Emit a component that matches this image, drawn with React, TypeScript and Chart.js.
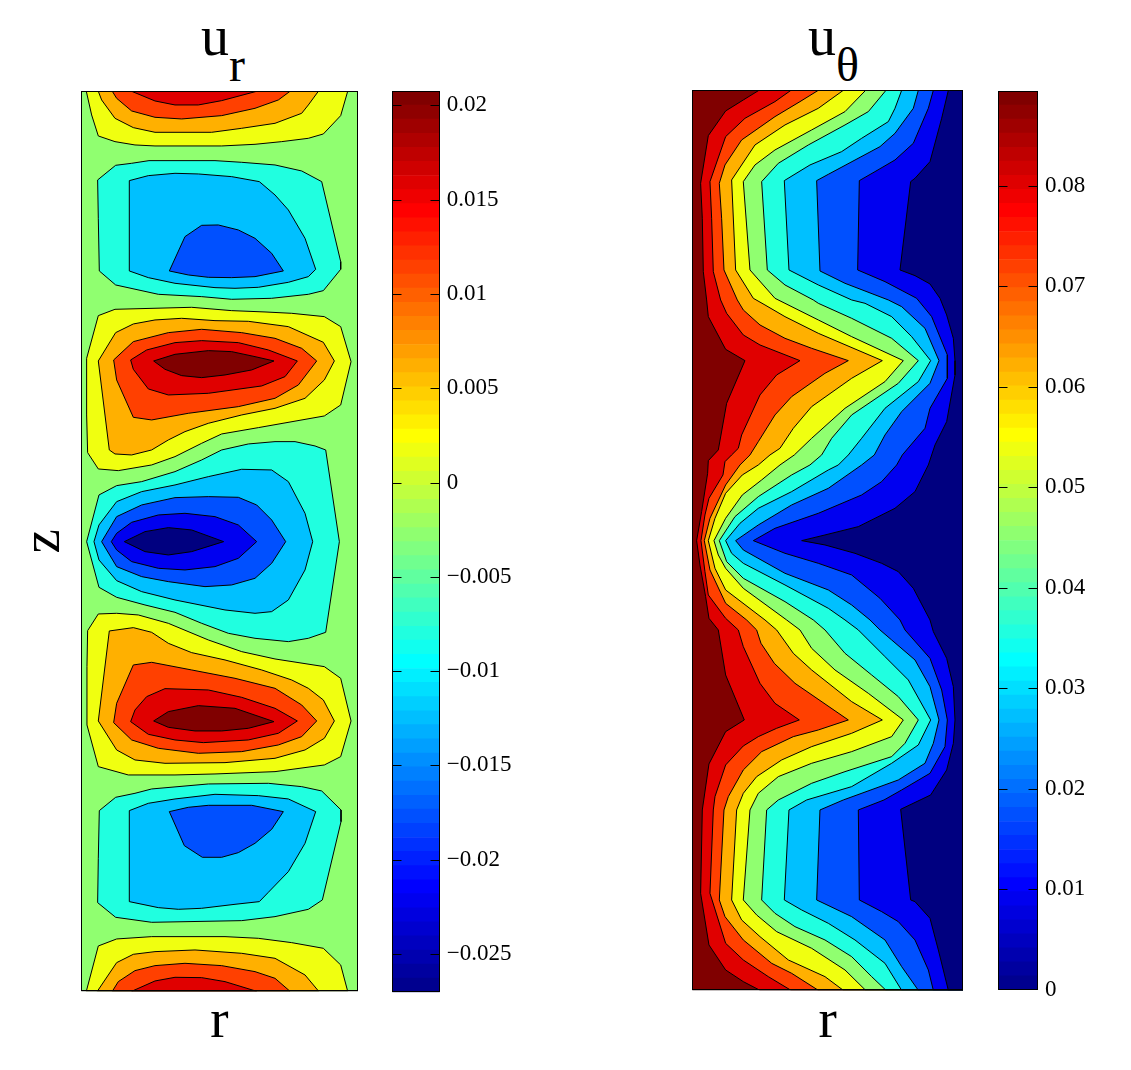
import React, { useEffect, useRef } from "react";
import { Chart, registerables } from "chart.js";

Chart.register(...registerables);

type P = [number, number][];

// ---- jet band colours used by the filled contours
const DARK_RED = "#800000";
const RED = "#E00000";
const ORANGE_RED = "#FF4000";
const ORANGE = "#FFB000";
const YELLOW = "#F0FF10";
const GREEN = "#90FF70";
const CYAN = "#20FFE0";
const LIGHT_BLUE = "#00C0FF";
const BLUE = "#0050FF";
const DARK_BLUE = "#0000F0";
const NAVY = "#000080";

// ---- u_r panel: r in 0..829, z in 0..2700 (measured downward from the top of the domain)
const urDomain: P = [[0, 0], [829, 0], [829, 2700], [0, 2700]];
const urYellowTop: P = [[15,0],[31,71],[51,134],[101,151],[161,161],[221,164],[421,164],[521,159],[601,151],[681,141],[726,128],[778,73],[799,0]];
const urOrangeTop: P = [[51,0],[61,26],[101,81],[156,109],[221,123],[391,123],[481,111],[581,96],[661,66],[681,41],[711,0]];
const urOrangeRedTop: P = [[93,0],[106,21],[151,59],[221,78],[301,83],[421,73],[521,51],[591,26],[626,0]];
const urRedTop: P = [[151,0],[221,29],[281,41],[351,41],[421,28],[526,0]];

const urCyan1: P = [[49,266],[103,222],[151,216],[203,208],[401,208],[481,213],[581,221],[661,239],[721,271],[778,511],[778,534],[726,598],[681,609],[571,621],[451,624],[361,616],[231,609],[103,581],[54,539],[51,381]];
const urLight1: P = [[144,268],[201,253],[281,246],[351,248],[451,256],[534,271],[581,311],[621,356],[671,441],[703,534],[681,556],[621,573],[531,588],[461,591],[401,589],[281,576],[201,559],[144,539]];
const urBlue1: P = [[264,539],[311,436],[361,402],[411,401],[471,416],[521,441],[571,486],[606,539],[521,556],[451,559],[381,558],[321,551]];

const urYellow2: P = [[51,673],[101,654],[331,648],[451,658],[551,662],[631,666],[729,676],[778,706],[809,811],[778,941],[729,974],[531,1009],[421,1028],[361,1056],[281,1096],[211,1121],[111,1138],[51,1133],[19,1084],[16,971],[16,801]];
const urOrange2: P = [[103,724],[156,698],[221,686],[301,681],[401,688],[501,690],[621,706],[726,753],[759,809],[729,866],[671,921],[581,951],[481,971],[381,996],[311,1021],[261,1046],[211,1076],[151,1091],[101,1088],[84,1076],[51,809]];
const urOrangeRed2: P = [[97,806],[156,751],[261,724],[361,714],[481,724],[581,741],[661,771],[706,809],[651,881],[581,921],[471,946],[321,966],[211,986],[156,978],[106,866]];
const urRed2: P = [[148,806],[196,776],[281,754],[361,748],[471,754],[561,776],[648,809],[611,856],[541,884],[381,906],[261,911],[201,893],[156,834]];
const urDark2: P = [[217,809],[281,789],[381,778],[451,781],[521,796],[578,809],[511,836],[431,851],[361,859],[301,853],[251,834]];

const urCyan3: P = [[53,1211],[106,1183],[181,1171],[281,1141],[361,1106],[421,1076],[501,1058],[581,1051],[641,1051],[701,1064],[733,1076],[774,1351],[733,1623],[681,1641],[621,1651],[521,1641],[441,1626],[361,1596],[281,1563],[191,1541],[106,1518],[53,1488],[16,1351]];
const urLight3: P = [[38,1351],[53,1301],[106,1231],[181,1201],[281,1181],[381,1156],[481,1134],[571,1136],[621,1171],[671,1266],[694,1351],[671,1436],[621,1526],[571,1561],[521,1566],[431,1556],[281,1526],[181,1501],[106,1468],[53,1406]];
const urBlue3: P = [[61,1351],[106,1276],[181,1241],[281,1219],[381,1216],[471,1218],[526,1241],[571,1286],[613,1351],[571,1416],[521,1461],[451,1481],[371,1486],[261,1471],[181,1456],[106,1426]];
const urDarkBlue3: P = [[90,1351],[106,1326],[151,1293],[231,1271],[311,1266],[401,1276],[471,1301],[526,1351],[471,1401],[401,1426],[311,1436],[231,1431],[151,1411],[106,1376]];
const urNavy3: P = [[129,1351],[191,1321],[261,1309],[331,1316],[427,1351],[331,1381],[261,1391],[191,1381]];

const urYellow4: P = [[19,1618],[51,1568],[106,1566],[171,1571],[261,1596],[381,1646],[481,1681],[581,1703],[729,1726],[778,1761],[809,1889],[778,1996],[729,2021],[581,2041],[401,2048],[281,2051],[141,2051],[51,2026],[17,1901],[17,1726]];
const urOrange4: P = [[84,1619],[156,1609],[211,1623],[261,1656],[331,1684],[431,1706],[541,1736],[631,1766],[681,1791],[726,1826],[759,1889],[729,1941],[671,1976],[581,2001],[431,2014],[251,2016],[161,2006],[106,1976],[51,1889]];
const urOrangeRed4: P = [[156,1721],[211,1713],[331,1736],[461,1761],[581,1791],[661,1841],[706,1889],[661,1936],[591,1961],[481,1981],[351,1986],[231,1971],[151,1946],[97,1894],[106,1836]];
const urRed4: P = [[148,1891],[161,1856],[196,1816],[251,1792],[381,1796],[481,1818],[581,1851],[648,1889],[591,1926],[501,1946],[366,1954],[281,1946],[201,1929]];
const urDark4: P = [[217,1889],[261,1861],[351,1843],[461,1851],[578,1891],[501,1911],[421,1919],[341,1919],[261,1908]];

const urCyan5: P = [[54,2158],[103,2118],[161,2106],[211,2093],[381,2078],[561,2076],[661,2086],[721,2099],[779,2156],[779,2191],[723,2426],[681,2454],[581,2476],[481,2488],[211,2493],[103,2478],[49,2434],[51,2301]];
const urLight5: P = [[144,2158],[201,2136],[281,2123],[401,2109],[531,2113],[621,2123],[703,2161],[671,2256],[621,2341],[561,2403],[534,2431],[461,2439],[361,2451],[291,2454],[231,2449],[144,2431]];
const urBlue5: P = [[264,2161],[321,2148],[381,2142],[511,2142],[606,2161],[571,2214],[521,2256],[471,2284],[421,2298],[363,2298],[309,2263]];

const urYellowBottom: P = [[51,2564],[106,2543],[211,2536],[431,2536],[531,2541],[631,2554],[726,2571],[778,2621],[799,2700],[15,2700]];
const urOrangeBottom: P = [[48,2700],[106,2614],[156,2589],[221,2581],[341,2576],[481,2586],[581,2601],[671,2651],[712,2700]];
const urOrangeRedBottom: P = [[93,2700],[111,2671],[161,2638],[221,2623],[311,2616],[421,2623],[521,2641],[581,2661],[626,2700]];
const urRedBottom: P = [[151,2700],[221,2669],[281,2658],[361,2659],[431,2671],[526,2700]];

const urContours: [P, string][] = [
  [urDomain, GREEN],
  [urYellowTop, YELLOW], [urOrangeTop, ORANGE], [urOrangeRedTop, ORANGE_RED], [urRedTop, RED],
  [urCyan1, CYAN], [urLight1, LIGHT_BLUE], [urBlue1, BLUE],
  [urYellow2, YELLOW], [urOrange2, ORANGE], [urOrangeRed2, ORANGE_RED], [urRed2, RED], [urDark2, DARK_RED],
  [urCyan3, CYAN], [urLight3, LIGHT_BLUE], [urBlue3, BLUE], [urDarkBlue3, DARK_BLUE], [urNavy3, NAVY],
  [urYellow4, YELLOW], [urOrange4, ORANGE], [urOrangeRed4, ORANGE_RED], [urRed4, RED], [urDark4, DARK_RED],
  [urCyan5, CYAN], [urLight5, LIGHT_BLUE], [urBlue5, BLUE],
  [urYellowBottom, YELLOW], [urOrangeBottom, ORANGE], [urOrangeRedBottom, ORANGE_RED], [urRedBottom, RED],
];

// ---- u_theta panel: r in 0..812, z in 0..2700; each line runs from the top edge to the bottom edge
const utDomain: P = [[0, 0], [812, 0], [812, 2700], [0, 2700]];
const utC1: P = [[200,0],[153,29],[100,62],[48,136],[25,279],[30,384],[33,544],[43,629],[48,679],[100,777],[158,811],[103,939],[78,1079],[48,1111],[46,1149],[28,1264],[13,1351],[23,1424],[40,1519],[50,1584],[78,1619],[100,1754],[156,1889],[100,1924],[50,2021],[30,2159],[25,2409],[50,2564],[100,2639],[153,2674],[203,2700]];
const utC2: P = [[296,0],[248,34],[158,84],[100,139],[53,274],[58,384],[63,544],[85,629],[103,669],[153,734],[203,764],[323,811],[253,854],[203,914],[148,1034],[138,1074],[118,1094],[98,1114],[92,1154],[50,1224],[38,1274],[26,1351],[38,1444],[48,1514],[100,1584],[138,1619],[153,1669],[203,1779],[248,1839],[321,1889],[253,1914],[198,1939],[153,1967],[100,2024],[68,2119],[63,2159],[53,2409],[100,2559],[153,2609],[228,2659],[296,2700]];
const utC3: P = [[378,0],[323,34],[248,79],[148,149],[98,224],[81,279],[88,384],[95,539],[135,629],[153,659],[203,704],[278,744],[358,774],[468,811],[398,849],[298,919],[248,974],[198,1054],[173,1094],[143,1124],[100,1184],[53,1284],[36,1351],[53,1439],[100,1539],[163,1589],[193,1619],[206,1659],[246,1719],[308,1779],[468,1889],[378,1919],[303,1939],[208,1984],[153,2039],[108,2119],[95,2159],[81,2429],[98,2479],[153,2549],[238,2619],[298,2649],[378,2700]];
const utC4: P = [[453,0],[378,54],[278,104],[188,164],[118,269],[130,539],[183,624],[218,644],[278,679],[378,729],[570,811],[478,864],[358,949],[303,1014],[263,1074],[233,1094],[198,1124],[150,1154],[100,1209],[68,1284],[48,1351],[68,1434],[100,1499],[218,1589],[253,1619],[303,1689],[358,1739],[478,1834],[570,1889],[478,1929],[358,1969],[268,2009],[193,2059],[153,2109],[133,2159],[118,2429],[148,2489],[203,2539],[288,2609],[398,2659],[453,2700]];
const utC5: P = [[520,0],[458,64],[358,119],[248,179],[188,224],[153,274],[173,539],[248,624],[278,639],[378,689],[478,739],[633,811],[578,874],[458,954],[358,1044],[306,1094],[263,1124],[208,1169],[150,1214],[100,1284],[65,1351],[78,1394],[100,1434],[153,1494],[283,1589],[323,1619],[358,1674],[428,1739],[528,1809],[633,1889],[598,1939],[478,1984],[358,2019],[258,2059],[198,2109],[173,2159],[153,2429],[193,2474],[253,2524],[358,2574],[458,2639],[520,2700]];
const utC6: P = [[581,0],[528,64],[458,104],[348,164],[258,219],[208,274],[225,539],[278,584],[363,629],[378,639],[478,684],[598,744],[678,811],[618,879],[478,974],[418,1044],[388,1094],[353,1124],[298,1154],[198,1219],[128,1279],[81,1351],[103,1414],[153,1464],[278,1534],[363,1589],[398,1619],[458,1689],[538,1754],[618,1819],[678,1889],[638,1959],[598,1999],[458,2044],[358,2079],[258,2129],[223,2159],[208,2429],[248,2469],[308,2509],[398,2549],[478,2599],[538,2659],[581,2700]];
const utC7: P = [[628,0],[608,54],[588,94],[508,144],[448,184],[353,224],[276,271],[290,539],[378,584],[478,629],[518,639],[598,679],[658,739],[715,811],[678,874],[578,954],[508,1044],[468,1094],[438,1124],[408,1139],[298,1204],[198,1254],[143,1299],[100,1351],[118,1389],[153,1419],[278,1484],[408,1554],[458,1589],[498,1619],[578,1699],[648,1769],[715,1889],[678,1964],[598,2019],[478,2089],[343,2129],[290,2159],[276,2429],[328,2459],[408,2499],[488,2549],[578,2619],[628,2700]];
const utC8: P = [[678,0],[663,54],[608,129],[563,169],[408,252],[373,271],[383,542],[458,579],[588,629],[628,649],[698,714],[740,811],[713,879],[628,964],[578,1034],[546,1094],[508,1124],[408,1194],[298,1244],[198,1304],[130,1351],[153,1379],[278,1449],[408,1499],[478,1544],[533,1589],[563,1619],[598,1649],[668,1709],[713,1789],[740,1889],[723,1959],[698,2019],[618,2069],[453,2129],[383,2159],[373,2429],[478,2479],[578,2549],[628,2629],[678,2700]];
const utC9: P = [[723,0],[708,54],[663,159],[608,209],[548,244],[501,271],[496,539],[578,574],[673,624],[718,679],[765,794],[765,864],[713,954],[698,1014],[630,1094],[613,1124],[568,1174],[508,1214],[378,1269],[248,1314],[183,1351],[278,1389],[378,1419],[478,1454],[563,1524],[623,1589],[638,1619],[713,1704],[748,1799],[765,1889],[758,1969],[713,2049],[628,2099],[575,2129],[498,2159],[501,2429],[568,2464],[618,2494],[668,2549],[708,2639],[723,2700]];
const utC10: P = [[768,0],[748,84],[713,214],[668,264],[655,274],[623,539],[668,556],[713,581],[743,624],[763,674],[783,744],[788,811],[788,854],[763,994],[728,1064],[708,1124],[668,1204],[608,1254],[498,1309],[398,1334],[328,1351],[398,1364],[488,1389],[568,1419],[618,1444],[663,1494],[713,1589],[723,1624],[763,1704],[783,1789],[788,1889],[783,1959],[763,2039],[715,2114],[625,2157],[655,2429],[668,2434],[713,2484],[738,2579],[768,2700]];
const utRightEdge: P = [[812, 2700], [812, 0]];

const utContours: [P, string][] = [
  [utDomain, DARK_RED],
  [[...utC1, ...utRightEdge], RED],
  [[...utC2, ...utRightEdge], ORANGE_RED],
  [[...utC3, ...utRightEdge], ORANGE],
  [[...utC4, ...utRightEdge], YELLOW],
  [[...utC5, ...utRightEdge], GREEN],
  [[...utC6, ...utRightEdge], CYAN],
  [[...utC7, ...utRightEdge], LIGHT_BLUE],
  [[...utC8, ...utRightEdge], BLUE],
  [[...utC9, ...utRightEdge], DARK_BLUE],
  [[...utC10, ...utRightEdge], NAVY],
];

// ---- colour bars
const urBarEdges = [-0.02703,-0.02628,-0.02554,-0.02479,-0.02404,-0.0233,-0.02255,-0.0218,-0.02106,-0.02031,-0.01956,-0.01882,-0.01807,-0.01732,-0.01658,-0.01583,-0.01508,-0.01434,-0.01359,-0.01284,-0.0121,-0.01135,-0.0106,-0.00986,-0.00911,-0.00836,-0.00762,-0.00687,-0.00612,-0.00538,-0.00463,-0.00388,-0.00313,-0.00239,-0.00164,-0.00089,-0.00015,0.0006,0.00135,0.00209,0.00284,0.00359,0.00433,0.00508,0.00583,0.00657,0.00732,0.00807,0.00881,0.00956,0.01031,0.01105,0.0118,0.01255,0.01329,0.01404,0.01479,0.01553,0.01628,0.01703,0.01777,0.01852,0.01927,0.02001,0.02076];
const utBarEdges = [0,0.0014,0.00279,0.00419,0.00559,0.00698,0.00838,0.00978,0.01118,0.01257,0.01397,0.01537,0.01676,0.01816,0.01956,0.02095,0.02235,0.02375,0.02514,0.02654,0.02794,0.02933,0.03073,0.03213,0.03353,0.03492,0.03632,0.03772,0.03911,0.04051,0.04191,0.0433,0.0447,0.0461,0.04749,0.04889,0.05029,0.05168,0.05308,0.05448,0.05588,0.05727,0.05867,0.06007,0.06146,0.06286,0.06426,0.06565,0.06705,0.06845,0.06984,0.07124,0.07264,0.07403,0.07543,0.07683,0.07823,0.07962,0.08102,0.08242,0.08381,0.08521,0.08661,0.088,0.0894];
const urTicks = [-0.025,-0.02,-0.015,-0.01,-0.005,0,0.005,0.01,0.015,0.02];
const utTicks = [0,0.01,0.02,0.03,0.04,0.05,0.06,0.07,0.08];

function jet(i: number): string {
  const c = (v: number) => Math.round(255 * Math.max(0, Math.min(1, v)));
  const k = i + 1;
  const r = (k - 24) / 16 <= 1 ? (k - 24) / 16 : (64 + 8 - k) / 16;
  const g = k <= 40 ? (k - 8) / 16 : (56 - k) / 16;
  const b = k <= 24 ? (k <= 8 ? (k + 8) / 16 : 1) : (40 - k) / 16;
  return `rgb(${c(r)},${c(g)},${c(b)})`;
}

const SERIF = '"Liberation Serif", "Times New Roman", serif';

const framePlugin = {
  id: "frame",
  afterDatasetsDraw(chart: any) {
    const { ctx, chartArea: a } = chart;
    const l = Math.round(a.left) + 0.5;
    const t = Math.round(a.top) + 0.5;
    const r = Math.round(a.right) - 0.5;
    const b = Math.round(a.bottom) - 0.5;
    ctx.save();
    ctx.strokeStyle = "#000";
    ctx.lineWidth = 1;
    ctx.strokeRect(l, t, r - l, b - t);
    const y = chart.options.plugins.frame?.ticks ? chart.scales.y : null;
    if (y) {
      ctx.beginPath();
      y.ticks.forEach((_: any, i: number) => {
        const p = Math.min(Math.round(y.getPixelForTick(i)) + 0.5, b);
        ctx.moveTo(l, p);
        ctx.lineTo(l + 9, p);
        ctx.moveTo(r - 9, p);
        ctx.lineTo(r, p);
      });
      ctx.stroke();
    }
    ctx.restore();
  },
};

function contourConfig(contours: [P, string][], rMax: number, opt: any) {
  const closed = (p: P) => [...p, p[0]].map(([x, y]) => ({ x, y }));
  return {
    type: "scatter",
    data: {
      // Chart.js paints the last dataset first, so the outermost contour goes last
      datasets: [...contours].reverse().map(([p, color]) => ({
        data: closed(p),
        showLine: true,
        fill: "shape",
        backgroundColor: color,
        borderColor: "#000",
        borderWidth: 1,
        borderJoinStyle: "bevel",
        tension: 0,
        pointRadius: 0,
        pointHoverRadius: 0,
      })),
    },
    options: {
      animation: false,
      responsive: false,
      devicePixelRatio: 1,
      events: [],
      layout: { autoPadding: false, padding: opt.padding },
      plugins: { legend: { display: false }, tooltip: { enabled: false }, title: { display: false } },
      scales: {
        x: {
          type: "linear", min: 0, max: rMax,
          grid: { display: false, drawTicks: false }, border: { display: false },
          ticks: { display: false },
          title: { display: true, text: "r", color: "#000", font: { family: SERIF, size: 55, lineHeight: 1 }, padding: { top: 0, bottom: 10 } },
          afterFit: (s: any) => { s.height = opt.xHeight; },
        },
        y: {
          type: "linear", min: 0, max: 2700, reverse: true,
          display: opt.zTitle,
          grid: { display: false, drawTicks: false }, border: { display: false },
          ticks: { display: false },
          title: { display: opt.zTitle, text: "z", color: "#000", font: { family: SERIF, size: 55, lineHeight: 1 }, padding: { top: 7, bottom: 0 } },
          afterFit: (s: any) => { s.width = opt.yWidth; },
        },
      },
    },
    plugins: [framePlugin],
  };
}

function barConfig(edges: number[], ticks: number[], padding: any, yWidth: number) {
  const fmt = (v: number) => (v < 0 ? "\u2212" + Math.abs(v) : String(v));
  return {
    type: "bar",
    data: {
      labels: ["level"],
      datasets: edges.slice(0, -1).map((lo, i) => ({
        data: [[lo, edges[i + 1]]],
        backgroundColor: jet(i),
        borderWidth: 0,
        grouped: false,
        barPercentage: 1,
        categoryPercentage: 1,
      })),
    },
    options: {
      animation: false,
      responsive: false,
      devicePixelRatio: 1,
      events: [],
      layout: { autoPadding: false, padding },
      plugins: { legend: { display: false }, tooltip: { enabled: false }, frame: { ticks: true } },
      scales: {
        x: { display: false },
        y: {
          type: "linear", position: "right",
          min: edges[0], max: edges[edges.length - 1],
          grid: { display: false, drawTicks: false }, border: { display: false },
          afterBuildTicks: (s: any) => { s.ticks = ticks.map((value) => ({ value })); },
          ticks: {
            autoSkip: false, padding: 7, color: "#000", maxRotation: 0,
            font: { family: SERIF, size: 23 },
            callback: (v: number) => fmt(v),
          },
          afterFit: (s: any) => { s.width = yWidth; },
        },
      },
    },
    plugins: [framePlugin],
  };
}

const abs = (left: number, top: number, width: number, height: number): React.CSSProperties => ({
  position: "absolute", left, top, width, height, display: "block",
});

function Heading({ left, sub }: { left: number; sub: string }) {
  return (
    <div style={{ position: "absolute", left, top: 8, fontFamily: SERIF, fontSize: 56, lineHeight: 1, color: "#000", whiteSpace: "nowrap" }}>
      u<span style={{ fontSize: 48, position: "relative", top: 26 }}>{sub}</span>
    </div>
  );
}

export default function App() {
  const a = useRef<HTMLCanvasElement>(null);
  const b = useRef<HTMLCanvasElement>(null);
  const c = useRef<HTMLCanvasElement>(null);
  const d = useRef<HTMLCanvasElement>(null);

  useEffect(() => {
    const charts = [
      new Chart(a.current!, contourConfig(urContours, 829, { padding: { left: 0, right: 12.3, top: 10.3, bottom: 0 }, xHeight: 68.7, yWidth: 71.3, zTitle: true }) as any),
      new Chart(b.current!, barConfig(urBarEdges, urTicks, { left: 7.3, right: 0, top: 21, bottom: 22.7 }, 91.3) as any),
      new Chart(c.current!, contourConfig(utContours, 812, { padding: { left: 67.3, right: 12, top: 10.3, bottom: 0 }, xHeight: 69.7, yWidth: 0, zTitle: false }) as any),
      new Chart(d.current!, barConfig(utBarEdges, utTicks, { left: 8, right: 0, top: 21, bottom: 25 }, 85) as any),
    ];
    return () => charts.forEach((ch) => ch.destroy());
  }, []);

  return (
    <div style={{ position: "absolute", left: 0, top: 0, width: 1131, height: 1070, overflow: "hidden", background: "#fff" }}>
      <Heading left={201} sub="r" />
      <Heading left={808} sub={"\u03B8"} />
      <canvas ref={a} width={360} height={979} style={abs(10, 81, 360, 979)} />
      <canvas ref={b} width={146} height={945} style={abs(385, 70, 146, 945)} />
      <canvas ref={c} width={350} height={980} style={abs(625, 80, 350, 980)} />
      <canvas ref={d} width={133} height={945} style={abs(990, 70, 133, 945)} />
    </div>
  );
}
